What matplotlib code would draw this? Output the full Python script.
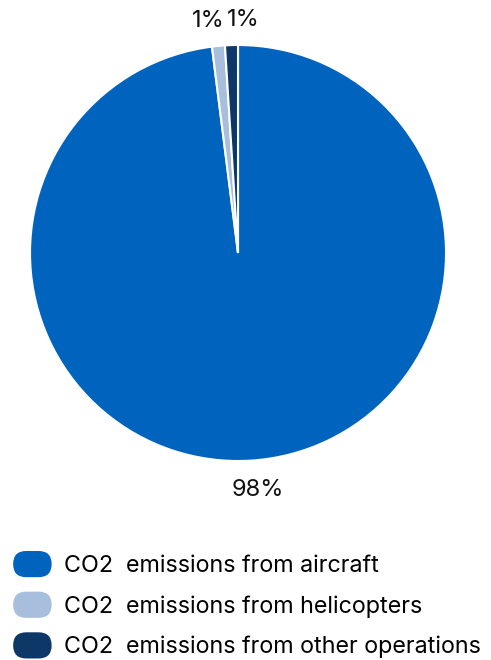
import matplotlib
matplotlib.use("Agg")
import matplotlib.pyplot as plt
from matplotlib.patches import FancyBboxPatch
from matplotlib.legend_handler import HandlerPatch

labels = ["CO2  emissions from aircraft",
          "CO2  emissions from helicopters",
          "CO2  emissions from other operations"]
shares = [98, 1, 1]
pct_text = ["98%", "1%", "1%"]
colors = ["#0064BF", "#A7BFDC", "#0D3766"]

plt.rcParams['font.family'] = ['Inter', 'DejaVu Sans']


class PillHandler(HandlerPatch):
    # rounded legend keys like the original
    def create_artists(self, legend, orig_handle, xdescent, ydescent,
                       width, height, fontsize, trans):
        r = height / 2
        p = FancyBboxPatch((-xdescent + r, -ydescent + r),
                           width - 2 * r, height - 2 * r,
                           boxstyle="round,pad=%f,rounding_size=%f" % (r, r),
                           facecolor=orig_handle.get_facecolor(),
                           edgecolor="none", transform=trans)
        return [p]


fig = plt.figure(figsize=(4.91, 6.6), dpi=100)
ax = fig.add_axes([0.0611, 0.3015, 0.8473, 0.6303])

wedges, texts = ax.pie(shares, labels=pct_text, colors=colors,
                       startangle=90, counterclock=False,
                       labeldistance=1.14,
                       wedgeprops=dict(edgecolor="white", linewidth=1.5),
                       textprops=dict(fontsize=17, color="#111111"))
ax.set_xlim(-1, 1)
ax.set_ylim(-1, 1)
ax.set_aspect("equal")

# center the labels and spread the two small ones apart
nudge = [(0.025, 0.0), (-0.034, -0.02), (0.06, -0.02)]
for t, (dx, dy) in zip(texts, nudge):
    x, y = t.get_position()
    t.set_position((x + dx, y + dy))
    t.set_ha("center")

fig.legend(wedges, labels, loc="upper left",
           bbox_to_anchor=(-0.016, 0.197), frameon=False,
           fontsize=16.8, handlelength=1.65, handleheight=1.35,
           handletextpad=0.55, labelspacing=0.62,
           handler_map={type(wedges[0]): PillHandler()})

fig.savefig("out.png", dpi=100)
